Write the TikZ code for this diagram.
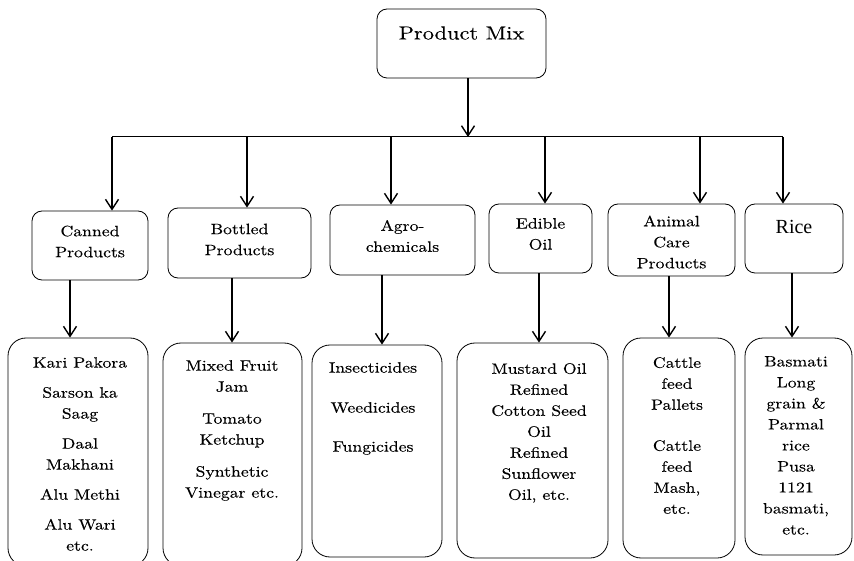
\documentclass[tikz,border=0pt]{standalone}
\usepackage{fontspec}
\setmainfont{lmroman10-regular.otf}[FakeStretch=1.18,FakeBold=0.2]
\newfontfamily\ricefont{Liberation Serif}
\usetikzlibrary{arrows.meta}
\begin{document}
\begin{tikzpicture}[x=1pt,y=-1pt,
  box/.style={draw,rounded corners=10pt,line width=0.8pt,inner sep=0pt},
  ibox/.style={draw,rounded corners=18pt,line width=0.8pt,inner sep=0pt},
  txt/.style={align=center,font=\fontsize{15}{21}\selectfont,inner sep=0pt},
  itxt/.style={align=center,font=\fontsize{15}{21}\selectfont,inner sep=0pt,anchor=north},
  arr/.style={line width=1.6pt,-{Straight Barb[length=10pt,width=13pt,line width=1.4pt]}},
  bus/.style={line width=1pt}]
\useasboundingbox (0,0) rectangle (854,561);
% top
\node[box,minimum width=169pt,minimum height=69pt] (pm) at (461.5,43.5) {};
\node[font=\fontsize{19}{22}\selectfont,inner sep=0pt] (pmt) at (461.5,33) {Product Mix};
% bus
\coordinate (b0) at (468,137);
\coordinate (b1) at (112,137);
\coordinate (b2) at (247,137);
\coordinate (b3) at (391,137);
\coordinate (b4) at (545,137);
\coordinate (b5) at (700,137);
\coordinate (b6) at (783,137);
\draw[arr] (pm.south -| b0) -- (b0);
\draw[bus] (b1) -- (b6);
% categories
\node[box,minimum width=116pt,minimum height=69pt] (c1) at (90,245.5) {};
\node[box,minimum width=143pt,minimum height=70pt] (c2) at (239.5,243) {};
\node[box,minimum width=145pt,minimum height=70pt] (c3) at (402.5,240) {};
\node[box,minimum width=103pt,minimum height=69pt] (c4) at (540.5,238.5) {};
\node[box,minimum width=127pt,minimum height=72pt] (c5) at (671.5,240) {};
\node[box,minimum width=98pt,minimum height=69pt] (c6) at (794,238.5) {};
\node[txt] (t1) at (90,241.5) {Canned\\Products};
\node[txt] (t2) at (239.5,239.5) {Bottled\\Products};
\node[txt] (t3) at (402.5,236) {Agro-\\chemicals};
\node[txt] (t4) at (540.5,234) {Edible\\Oil};
\node[txt] (t5) at (671.5,242) {Animal\\Care\\Products};
\node[font=\ricefont\fontsize{20}{22}\selectfont,inner sep=0pt] (t6) at (794,227) {Rice};
\foreach \i in {1,...,6}{\draw[arr] (b\i) -- (b\i |- c\i.north);}
% items
\node[ibox,minimum width=140pt,minimum height=228pt] (i1) at (78,452) {};
\node[ibox,minimum width=139pt,minimum height=223pt] (i2) at (232.5,454.5) {};
\node[ibox,minimum width=130pt,minimum height=212pt] (i3) at (377,451) {};
\node[ibox,minimum width=151pt,minimum height=215pt] (i4) at (532.5,450.5) {};
\node[ibox,minimum width=112pt,minimum height=220pt] (i5) at (679,448) {};
\node[ibox,minimum width=107pt,minimum height=217pt] (i6) at (798.5,446.5) {};
\coordinate (d1) at (70,0);
\coordinate (d2) at (232,0);
\coordinate (d3) at (382,0);
\coordinate (d4) at (539,0);
\coordinate (d5) at (669,0);
\coordinate (d6) at (792,0);
\foreach \i in {1,...,6}{\draw[arr] (c\i.south -| d\i) -- (i\i.north -| d\i);}
\node[itxt] (l1) at (80,357) {Kari Pakora\\[9pt]Sarson ka\\Saag\\[9pt]Daal\\Makhani\\[9pt]Alu Methi\\[9pt]Alu Wari\\etc.};
\node[itxt] (l2) at (232,360) {Mixed Fruit\\Jam\\[11pt]Tomato\\Ketchup\\[11pt]Synthetic\\Vinegar etc.};
\node[itxt] (l3) at (373,362) {Insecticides\\[19pt]Weedicides\\[18pt]Fungicides};
\node[itxt] (l4) at (539,363) {Mustard Oil\\Refined\\Cotton Seed\\Oil\\Refined\\Sunflower\\Oil, etc.};
\node[itxt] (l5) at (677,357) {Cattle\\feed\\Pallets\\[20pt]Cattle\\feed\\Mash,\\etc.};
\node[itxt] (l6) at (796,356) {Basmati\\Long\\grain \&\\Parmal\\rice\\Pusa\\1121\\basmati,\\etc.};
\end{tikzpicture}
\end{document}
